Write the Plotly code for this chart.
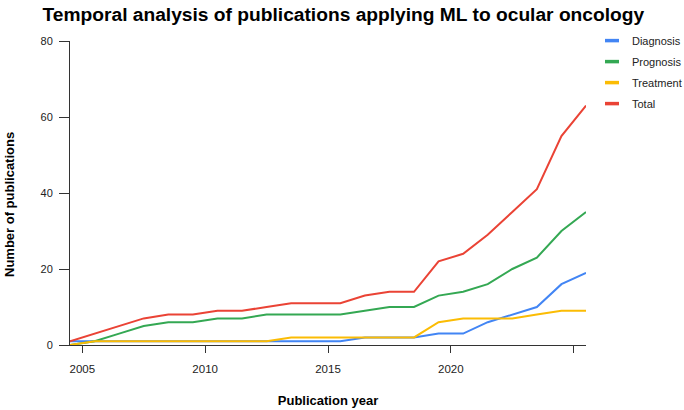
import plotly.graph_objects as go

# Point positions on the year axis
years = [2004.5, 2005.5, 2006.5, 2007.5, 2008.5, 2009.5, 2010.5, 2011.5,
         2012.5, 2013.5, 2014.5, 2015.5, 2016.5, 2017.5, 2018.5, 2019.5,
         2020.5, 2021.5, 2022.5, 2023.5, 2024.5, 2025.5]

diagnosis = [1, 1, 1, 1, 1, 1, 1, 1, 1, 1, 1, 1, 2, 2, 2, 3, 3, 6, 8, 10, 16, 19]
prognosis = [0, 1, 3, 5, 6, 6, 7, 7, 8, 8, 8, 8, 9, 10, 10, 13, 14, 16, 20, 23, 30, 35]
treatment = [0, 1, 1, 1, 1, 1, 1, 1, 1, 2, 2, 2, 2, 2, 2, 6, 7, 7, 7, 8, 9, 9]
total = [1, 3, 5, 7, 8, 8, 9, 9, 10, 11, 11, 11, 13, 14, 14, 22, 24, 29, 35, 41, 55, 63]

series_names = ["Diagnosis", "Prognosis", "Treatment", "Total"]
series_values = [diagnosis, prognosis, treatment, total]
colors = ["#4285F4", "#34A853", "#FBBC04", "#EA4335"]

x_tickvals = [2005, 2010, 2015, 2020, 2025]
x_ticktext = ["2005", "2010", "2015", "2020", ""]
y_tickvals = [0, 20, 40, 60, 80]

FONT = "Liberation Sans, Arial, sans-serif"

fig = go.Figure()
for i in range(4):
    fig.add_trace(go.Scatter(
        x=years, y=series_values[i], mode="lines", name=series_names[i],
        line=dict(color=colors[i], width=2), showlegend=False,
        hoverinfo="x+y+name"))
# legend entries with short line symbols
for i in range(4):
    fig.add_trace(go.Scatter(
        x=[None], y=[None], mode="markers", name=series_names[i],
        legendgroup=series_names[i],
        marker=dict(symbol="line-ew-open", size=10, color=colors[i],
                    line=dict(color=colors[i], width=3.5)),
        showlegend=True))

fig.update_layout(
    width=684, height=410,
    margin=dict(l=70, r=98, t=41, b=65, autoexpand=False),
    paper_bgcolor="white", plot_bgcolor="white",
    font=dict(family=FONT, size=11, color="#222222"),
    title=dict(text="<b>Temporal analysis of publications applying ML to ocular oncology</b>",
               x=0.502, xref="container", xanchor="center", y=0.965, yref="container",
               yanchor="middle",
               font=dict(family=FONT, size=19.2, color="#000000")),
    legend=dict(x=1.0116, xanchor="left", y=1.049, yanchor="top",
                font=dict(family=FONT, size=11, color="#222222"),
                tracegroupgap=2, bgcolor="rgba(0,0,0,0)"),
    xaxis=dict(range=[2004.5, 2025.5], tickvals=x_tickvals, ticktext=x_ticktext,
               showgrid=False, zeroline=False, showline=True, linecolor="#333333",
               linewidth=1, ticks="outside", ticklen=7, tickcolor="#333333",
               tickfont=dict(size=11.5, color="#222222"), ticklabelstandoff=6,
               automargin=False,
               title=dict(text="<b>Publication year</b>", standoff=22,
                          font=dict(family=FONT, size=13, color="#000000"))),
    yaxis=dict(range=[0, 80], tickvals=y_tickvals, showgrid=False, zeroline=False,
               showline=True, linecolor="#333333", linewidth=1, ticks="outside",
               ticklen=10, tickcolor="#333333", ticklabelstandoff=4, automargin=False,
               tickfont=dict(size=11, color="#222222")),
    annotations=[dict(text="<b>Number of publications</b>", textangle=-90,
                      xref="paper", yref="paper", x=(9 - 70) / 516, y=(345 - 205) / 304,
                      xanchor="center", yanchor="middle", showarrow=False,
                      font=dict(family=FONT, size=13, color="#000000"))],
)

fig.write_html("out.html", config={"displayModeBar": False},
               post_script="document.body.style.margin='0';")
